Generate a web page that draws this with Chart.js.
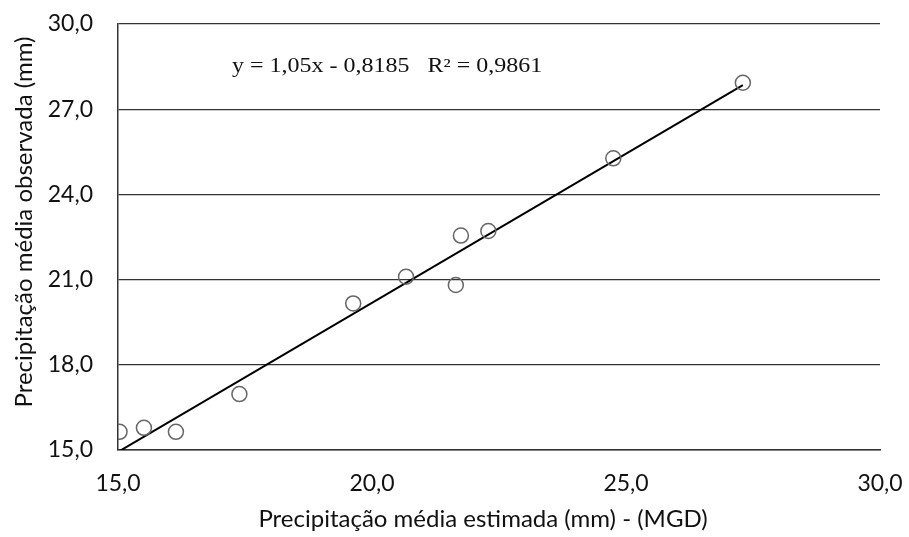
<!DOCTYPE html>
<html>
<head>
<meta charset="utf-8">
<script src="https://cdn.jsdelivr.net/npm/chart.js@4"></script>
<style>
  html, body { margin: 0; padding: 0; background: #fff; }
  #wrap { width: 909px; height: 537px; }
</style>
</head>
<body>
<div id="wrap"><canvas id="chart" width="909" height="537"></canvas></div>
<script>
// valores
const estimada = [15.03, 15.51, 16.14, 17.39, 19.63, 20.67, 21.65, 21.75, 22.29, 24.75, 27.30];
const observada = [15.64, 15.78, 15.64, 16.97, 20.16, 21.10, 20.81, 22.55, 22.71, 25.27, 27.93];

// linha de tendência (equação impressa no gráfico)
const slope = 1.05;
const intercept = -0.8185;
const equationText = "y = 1,05x - 0,8185   R² = 0,9861";

const xTitle = "Precipitação média estimada (mm) - (MGD)";
const yTitle = "Precipitação média observada (mm)";

const points = estimada.map((x, i) => ({ x: x, y: observada[i] }));
const xMin = Math.min(...estimada);
const xMax = Math.max(...estimada);
const trend = [
  { x: xMin, y: slope * xMin + intercept },
  { x: xMax, y: slope * xMax + intercept },
];

const fmt = (v) => v.toFixed(1).replace(".", ",");

const textPlugin = {
  id: "textPlugin",
  afterDraw(chart) {
    const ctx = chart.ctx;
    ctx.save();
    ctx.fillStyle = "#111";
    // equação (o texto original é mais largo)
    ctx.save();
    ctx.font = "20px 'Liberation Serif'";
    ctx.textAlign = "left";
    ctx.textBaseline = "alphabetic";
    ctx.translate(232, 72);
    ctx.scale(1.2, 1);
    ctx.fillText(equationText, 0, 0);
    ctx.restore();
    // título eixo x
    ctx.font = "24px Lato";
    ctx.textAlign = "center";
    ctx.textBaseline = "middle";
    ctx.fillText(xTitle, 483, 519);
    // título eixo y
    ctx.translate(24, 222);
    ctx.rotate(-Math.PI / 2);
    ctx.fillText(yTitle, 0, 0);
    ctx.restore();
  },
};

new Chart(document.getElementById("chart"), {
  type: "scatter",
  data: {
    datasets: [
      {
        label: "Observada",
        data: points,
        pointStyle: "circle",
        pointRadius: 7.5,
        pointBorderWidth: 1.5,
        pointBorderColor: "#666",
        pointBackgroundColor: "rgba(0,0,0,0)",
        showLine: false,
        order: 1,
      },
      {
        label: "Tendência",
        data: trend,
        showLine: true,
        borderColor: "#000",
        borderWidth: 2,
        pointRadius: 0,
        order: 2,
      },
    ],
  },
  options: {
    responsive: false,
    animation: false,
    layout: { padding: { left: 0, top: 24, right: 29, bottom: 0 } },
    plugins: {
      legend: { display: false },
      tooltip: { enabled: false },
    },
    scales: {
      x: {
        type: "linear",
        min: 15,
        max: 30,
        ticks: {
          stepSize: 5,
          padding: 20,
          color: "#111",
          font: { family: "Lato", size: 23 },
          callback: (v) => fmt(v),
        },
        grid: { display: false, drawTicks: false },
        border: { display: true, color: "#333", width: 1.5 },
        afterFit: (scale) => {
          scale.height = 87;
          scale.paddingLeft = 0;
          scale.paddingRight = 0;
        },
      },
      y: {
        type: "linear",
        min: 15,
        max: 30,
        ticks: {
          stepSize: 3,
          padding: 25,
          color: "#111",
          font: { family: "Lato", size: 23 },
          callback: (v) => fmt(v),
        },
        grid: { color: "#333", lineWidth: 1.2, drawTicks: false },
        border: { display: true, color: "#333", width: 1.5 },
        afterFit: (scale) => {
          scale.width = 118;
          scale.paddingTop = 0;
          scale.paddingBottom = 0;
        },
      },
    },
  },
  plugins: [textPlugin],
});
</script>
</body>
</html>
